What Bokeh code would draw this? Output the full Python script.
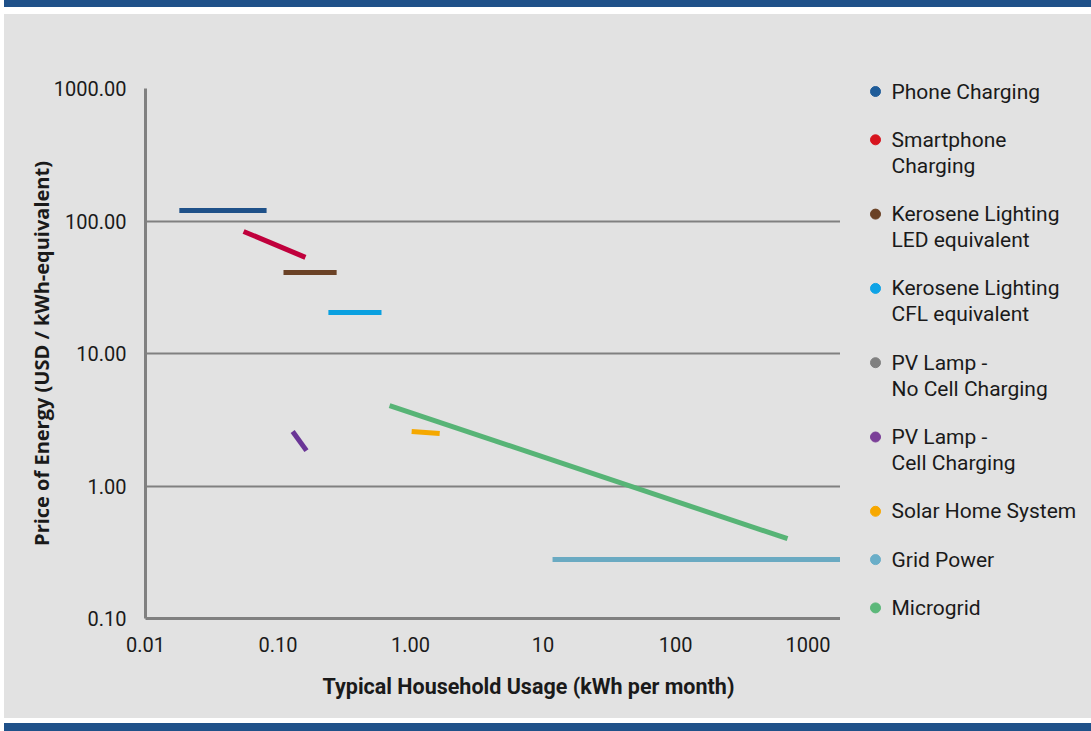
from bokeh.plotting import figure
from bokeh.models import FixedTicker, Div, Title, Range1d
from bokeh.core.properties import value
from bokeh.layouts import column, row
from bokeh.embed import file_html
from bokeh.resources import INLINE

# ---- data ----
phone_x = [0.018, 0.082]
phone_y = [120, 120]
smart_x = [0.055, 0.161]
smart_y = [83.4, 53.1]
kero_led_x = [0.110, 0.277]
kero_led_y = [40.8, 40.8]
kero_cfl_x = [0.240, 0.604]
kero_cfl_y = [20.4, 20.4]
pv_nocell_x = []
pv_nocell_y = []
pv_cell_x = [0.129, 0.164]
pv_cell_y = [2.58, 1.85]
shs_x = [1.02, 1.66]
shs_y = [2.58, 2.49]
grid_x = [11.8, 1758]
grid_y = [0.279, 0.279]
micro_x = [0.695, 700]
micro_y = [4.05, 0.40]

series_names = ["Phone Charging", "Smartphone\nCharging", "Kerosene Lighting\nLED equivalent",
                "Kerosene Lighting\nCFL equivalent", "PV Lamp -\nNo Cell Charging",
                "PV Lamp -\nCell Charging", "Solar Home System", "Grid Power", "Microgrid"]
line_colors = ["#1f5189", "#c0003c", "#6b4226", "#0aa0e0", "#808080", "#6a3596", "#f5a800", "#6aaac2", "#57b476"]
dot_colors = ["#1f5c99", "#d7141e", "#6b4226", "#0ea3e6", "#808080", "#7b3f98", "#f7a800", "#6aaec8", "#5cb87a"]
series_x = [phone_x, smart_x, kero_led_x, kero_cfl_x, pv_nocell_x, pv_cell_x, shs_x, grid_x, micro_x]
series_y = [phone_y, smart_y, kero_led_y, kero_cfl_y, pv_nocell_y, pv_cell_y, shs_y, grid_y, micro_y]

y_ticks = [0.1, 1, 10, 100, 1000]
y_tick_labels = ["0.10", "1.00", "10.00", "100.00", "1000.00"]
x_ticks = [0.01, 0.1, 1, 10, 100, 1000]
x_tick_labels = ["0.01", "0.10", "1.00", "10", "100", "1000"]

GRAY = "#e2e2e2"
BLUE = "#1f5189"
TEXT = "#1a1a1a"
W = 1087
WMAIN = 836
H = 704

p = figure(width=WMAIN, height=H, x_axis_type="log", y_axis_type="log",
           x_range=(0.01, 1758), y_range=(0.1, 1000),
           output_backend="svg", toolbar_location=None,
           background_fill_color=GRAY, border_fill_color=GRAY,
           min_border_left=141, min_border_right=0, min_border_top=74, min_border_bottom=100,
           outline_line_color=None, margin=0, frame_align=False)

p.xgrid.visible = False
p.ygrid.grid_line_color = "#808080"
p.ygrid.grid_line_width = 2
p.ygrid.ticker = FixedTicker(ticks=y_ticks)

p.yaxis.ticker = FixedTicker(ticks=y_ticks)
p.yaxis.major_label_overrides = {t: l for t, l in zip(y_ticks, y_tick_labels)}
p.xaxis.ticker = FixedTicker(ticks=x_ticks)
p.xaxis.major_label_overrides = {t: l for t, l in zip(x_ticks, x_tick_labels)}

for ax in (p.xaxis[0], p.yaxis[0]):
    ax.axis_line_color = "#808080"
    ax.axis_line_width = 3
    ax.major_tick_line_color = None
    ax.minor_tick_line_color = None
    ax.major_label_text_font = "Roboto"
    ax.major_label_text_font_size = "20px"
    ax.major_label_text_color = TEXT
    ax.axis_label_text_font_style = "bold"
    ax.axis_label_text_color = TEXT

p.yaxis.major_label_standoff = 13
p.xaxis.major_label_standoff = 12
p.yaxis.axis_label = "Price of Energy (USD / kWh-equivalent)"
p.yaxis.axis_label_text_font = "Open Sans"
p.yaxis.axis_label_text_font_size = "20px"
p.yaxis.axis_label_standoff = -4

xlabel = Title(text="Typical Household Usage (kWh per month)", align="left", offset=177,
               text_font="Roboto", text_font_size="21.5px", text_font_style="bold",
               text_color=TEXT, standoff=34)
p.add_layout(xlabel, "below")

for xs, ys, lc in zip(series_x, series_y, line_colors):
    if xs:
        p.line(xs, ys, line_color=lc, line_width=5, line_cap="butt")

# ---- legend: its own narrow panel to the right, laid out in pixel units ----
LW = W - WMAIN
lf = figure(width=LW, height=H, x_range=Range1d(0, LW), y_range=Range1d(H, 0),
            output_backend="svg", toolbar_location=None,
            background_fill_color=GRAY, border_fill_color=GRAY,
            min_border=0, outline_line_color=None, margin=0, frame_align=False)
lf.axis.visible = False
lf.grid.visible = False

LINE_PITCH = 26
ITEM_GAP = 22.3
dot_x, dot_y, txt_x, txt_y, txt = [], [], [], [], []
cy = 77
for name in series_names:
    lines = name.split("\n")
    dot_x.append(35)
    dot_y.append(cy)
    for i, ln in enumerate(lines):
        txt_x.append(51)
        txt_y.append(cy + i * LINE_PITCH)
        txt.append(ln)
    cy += LINE_PITCH * len(lines) + ITEM_GAP

lf.scatter(dot_x, dot_y, marker="circle", size=10, fill_color=dot_colors, line_color=dot_colors)
lf.text(txt_x, txt_y, text=txt, text_font=value("Roboto"), text_font_size=value("21px"),
        text_color=TEXT, text_baseline="middle", text_align="left")

top_band = Div(width=W, height=7, margin=0, styles={"background-color": BLUE})
top_gap = Div(width=W, height=7, margin=0, styles={"background-color": "#ffffff"})
white_gap = Div(width=W, height=5, margin=0, styles={"background-color": "#ffffff"})
bottom_band = Div(width=W, height=8, margin=0, styles={"background-color": BLUE})

body = row(p, lf, spacing=0, margin=0, styles={"background-color": GRAY})
layout = column(top_band, top_gap, body, white_gap, bottom_band,
                spacing=0, margin=(0, 0, 0, 4))
open("out.html", "w").write(file_html(layout, INLINE))
